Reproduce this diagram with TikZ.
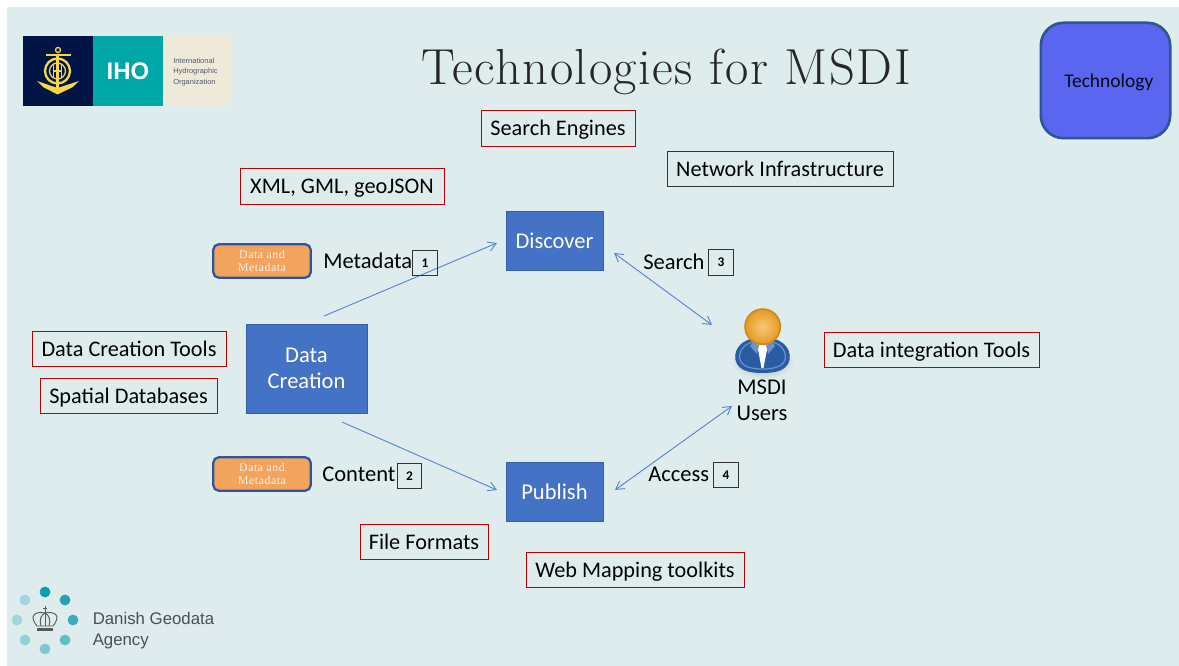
\documentclass[tikz,border=0pt]{standalone}
\usepackage{fontspec}
\setmainfont{Carlito}
\newfontfamily\titlefont[LetterSpace=3]{Latin Modern Roman}
\newfontfamily\serifsmall[LetterSpace=5]{Liberation Serif}
\newfontfamily\logofont{Liberation Sans}
\usetikzlibrary{arrows.meta,shapes.geometric}
\definecolor{panel}{HTML}{DFECEE}
\definecolor{boxblue}{HTML}{4472C4}
\definecolor{edgeblue}{HTML}{2F5597}
\definecolor{techfill}{HTML}{5B66F0}
\definecolor{techedge}{HTML}{2F5592}
\definecolor{orangefill}{HTML}{F2A45E}
\definecolor{redline}{HTML}{C00000}
\definecolor{lineblue}{HTML}{5B84D0}
\definecolor{ihonavy}{HTML}{001446}
\definecolor{ihoteal}{HTML}{00A7A7}
\definecolor{ihocream}{HTML}{EFE9D9}
\definecolor{ihogold}{HTML}{F7D64A}
\definecolor{ihotext}{HTML}{555A70}
\definecolor{dgateal}{HTML}{0A9DAE}
\definecolor{dgatext}{HTML}{4A4F55}
\definecolor{headin}{HTML}{F8C878}
\definecolor{headout}{HTML}{E59A22}
\definecolor{headline}{HTML}{C98A20}
\definecolor{bodydark}{HTML}{2A5CA6}
\definecolor{bodylight}{HTML}{6C93C8}
\tikzset{
  x=0.75pt,y=-0.75pt,
  toolbox/.style={draw=#1,line width=0.75pt,fill=panel,font=\fontsize{16.7}{20}\selectfont,text=black,inner sep=0pt,anchor=center,text height=13.8pt,text depth=3.4pt},
  procbox/.style={draw=edgeblue!70!boxblue,line width=0.4pt,fill=boxblue,text=white,font=\fontsize{16.9}{19.5}\selectfont,align=center,inner sep=0pt},
  numbox/.style={draw=black!80,line width=0.6pt,font=\fontsize{10}{11}\selectfont\bfseries,inner sep=0pt,minimum width=18.5pt,minimum height=19pt},
  lab/.style={font=\fontsize{16.9}{20}\selectfont,text=black,inner sep=0pt},
  datatag/.style={draw=edgeblue,line width=1.7pt,rounded corners=4pt,fill=orangefill,text=white!85!orangefill,font=\serifsmall\fontsize{8.8}{9.8}\selectfont,align=center,inner sep=0pt,minimum width=73pt,minimum height=25pt},
  flow/.style={draw=lineblue,line width=0.7pt,-{Straight Barb[length=6pt,width=7pt,line width=0.7pt]}},
  flowboth/.style={draw=lineblue,line width=0.7pt,{Straight Barb[length=6pt,width=7pt,line width=0.7pt]}-{Straight Barb[length=6pt,width=7pt,line width=0.7pt]}},
}
\newcommand{\tbox}[6]{\node[toolbox=#1,minimum width=#2*0.75pt,minimum height=#3*0.75pt] (#4) at (#5) {#6};}
\begin{document}
\begin{tikzpicture}
\useasboundingbox (0,0) rectangle (1179,666);
\fill[white] (0,0) rectangle (1179,666);
\fill[panel] (7,7) rectangle (1179,666);
% IHO logo
\fill[ihonavy] (23,36) rectangle (93,106);
\fill[ihoteal] (93,36) rectangle (162.5,106);
\fill[ihocream] (162.5,36) rectangle (232,106);
\node[font=\logofont\bfseries\fontsize{18}{18}\selectfont,text=white,inner sep=0pt] (ihoname) at (128,71) {IHO};
\node[font=\logofont\fontsize{5.6}{7.6}\selectfont,text=ihotext,align=left,inner sep=0pt,anchor=west] (ihofull) at (173,72) {International\\Hydrographic\\Organization};
\begin{scope}[draw=ihogold,fill=ihogold]
  \draw[line width=1pt] (58,50) circle (2.5);
  \draw[line width=2pt] (46,55) -- (71,55);
  \draw[line width=1.7pt] (57.5,71) circle (12.5);
  \draw[line width=1pt] (57.5,71) circle (8);
  \draw[line width=1.6pt] (57.5,55) -- (57.5,90);
  \draw[line width=1.3pt] (53.5,65) -- (53.5,77) (61.5,65) -- (61.5,77) (53.5,71) -- (61.5,71);
  \fill (37,81) -- (57.5,88) -- (79,81) -- (73,87) -- (57.5,94.5) -- (43,87) -- cycle;
\end{scope}
% Danish Geodata Agency logo
\fill[dgateal] (45,592) circle (5.4);
\fill[dgateal!90!panel] (65,600) circle (5.4);
\fill[dgateal!78!panel] (73,620) circle (5.4);
\fill[dgateal!60!panel] (65,640) circle (5.4);
\fill[dgateal!45!panel] (45,649) circle (5.4);
\fill[dgateal!35!panel] (25,640) circle (5.4);
\fill[dgateal!28!panel] (17,620) circle (5.4);
\fill[dgateal!28!panel] (25,600) circle (5.4);
\begin{scope}[draw=gray!70!black,line width=0.7pt]
  \draw (37,626) .. controls (28,615) and (36,611) .. (45,613) .. controls (54,611) and (62,615) .. (53,626) -- cycle;
  \draw (41,626) .. controls (39,620) and (41,615) .. (45,613) .. controls (49,615) and (51,620) .. (49,626);
  \draw (45,606) -- (45,626) (43,608.5) -- (47,608.5);
  \fill[gray!70!black] (37,627.5) rectangle (53,631);
\end{scope}
\node[font=\logofont\fontsize{12.6}{15.4}\selectfont,text=dgatext,align=left,inner sep=0pt,anchor=west] (dganame) at (92.5,630.5) {Danish Geodata\\Agency};
% Title
\node[font=\titlefont\fontsize{38}{40}\selectfont,text=black!85,inner sep=0pt] (title) at (666,71.5) {Technologies for MSDI};
% Legend
\node[draw=techedge,line width=2pt,fill=techfill,rounded corners=17pt,minimum width=97pt,minimum height=86.5pt,inner sep=0pt,font=\fontsize{14.6}{17}\selectfont,text=black!90!techfill] (tech) at (1105.5,80.5) {\hspace*{5pt}\raisebox{-5pt}[0pt][0pt]{Technology}};
% Tool boxes
\tbox{redline}{154}{36}{searchengines}{558,129}{Search Engines}
\tbox{black!80}{226}{35}{network}{780,169.5}{Network Infrastructure}
\tbox{redline}{204}{36}{formats}{342,187}{XML, GML, geoJSON}
\tbox{redline}{194}{35}{creationtools}{129,349.5}{Data Creation Tools}
\tbox{redline}{177}{35}{spatial}{128.5,396.5}{Spatial Databases}
\tbox{redline}{128}{35}{fileformats}{424,542.5}{File Formats}
\tbox{redline}{218}{35}{webmapping}{635,570.5}{Web Mapping toolkits}
\tbox{redline}{215}{35}{integration}{931.5,350.5}{Data integration Tools}
% Process boxes
\node[procbox,minimum width=90.5pt,minimum height=66.5pt] (creation) at (306.5,368.5) {Data\\Creation};
\node[procbox,minimum width=72.5pt,minimum height=44pt] (discover) at (554.5,240.5) {Discover};
\node[procbox,minimum width=72.5pt,minimum height=44pt] (publish) at (554.5,491.5) {Publish};
% Data tags
\node[datatag] (tagmeta) at (262,261) {Data and\\Metadata};
\node[datatag] (tagcontent) at (262,474) {Data and\\Metadata};
% User icon
\shade[inner color=black!35,outer color=panel] (762.5,362) ellipse (32 and 17);
\fill[bodydark] (735.5,360) .. controls (733,347) and (745,337) .. (762.5,337) .. controls (780,337) and (792,347) .. (789.5,360) .. controls (787,371) and (775,373) .. (762.5,373) .. controls (750,373) and (738,371) .. (735.5,360) -- cycle;
\draw[bodylight,line width=0.9pt] (739.5,358) .. controls (739,349) and (747,342) .. (755,342) (770,342) .. controls (778,342) and (786,349) .. (785.5,358) .. controls (784,367) and (773,369) .. (762.5,369) .. controls (752,369) and (741,367) .. (739.5,358);
\fill[white] (757,344) -- (768,344) -- (763.5,368) -- (761.5,368) -- cycle;
\fill[bodylight] (753,342) -- (759,345) -- (757,354) -- (750,346) -- cycle;
\fill[bodylight] (772,342) -- (766,345) -- (768,354) -- (775,346) -- cycle;
\node[circle,draw=headline,line width=1.2pt,inner color=headin,outer color=headout,minimum size=26.5pt,inner sep=0pt] (head) at (762.7,326.7) {};
\node[lab,align=center,font=\fontsize{16.9}{19.5}\selectfont] (users) at (762,400) {MSDI\\Users};
% Connector ends
\coordinate (creationA) at (324,316);
\coordinate (discoverA) at (497,243);
\coordinate (creationB) at (342,422);
\coordinate (publishB) at (497,490);
\coordinate (discoverC) at (614,253);
\coordinate (usersC) at (712,325);
\coordinate (publishD) at (615,490);
\coordinate (usersD) at (732,406);
% Labels
\node[lab,anchor=west] (lmeta) at (323,261) {Metadata};
\node[lab,anchor=west] (lcontent) at (322,474.5) {Content};
\node[lab,anchor=west] (lsearch) at (643,261.5) {Search};
\node[lab,anchor=west] (laccess) at (648,474) {Access};
% Connectors
\draw[flow] (creationA) -- (discoverA);
\draw[flow] (creationB) -- (publishB);
\draw[flowboth] (discoverC) -- (usersC);
\draw[flowboth] (publishD) -- (usersD);
% Number boxes
\node[numbox] (n1) at (425,263) {1};
\node[numbox] (n2) at (409.5,476) {2};
\node[numbox] (n3) at (721,262.5) {3};
\node[numbox] (n4) at (726,475) {4};
\end{tikzpicture}
\end{document}
